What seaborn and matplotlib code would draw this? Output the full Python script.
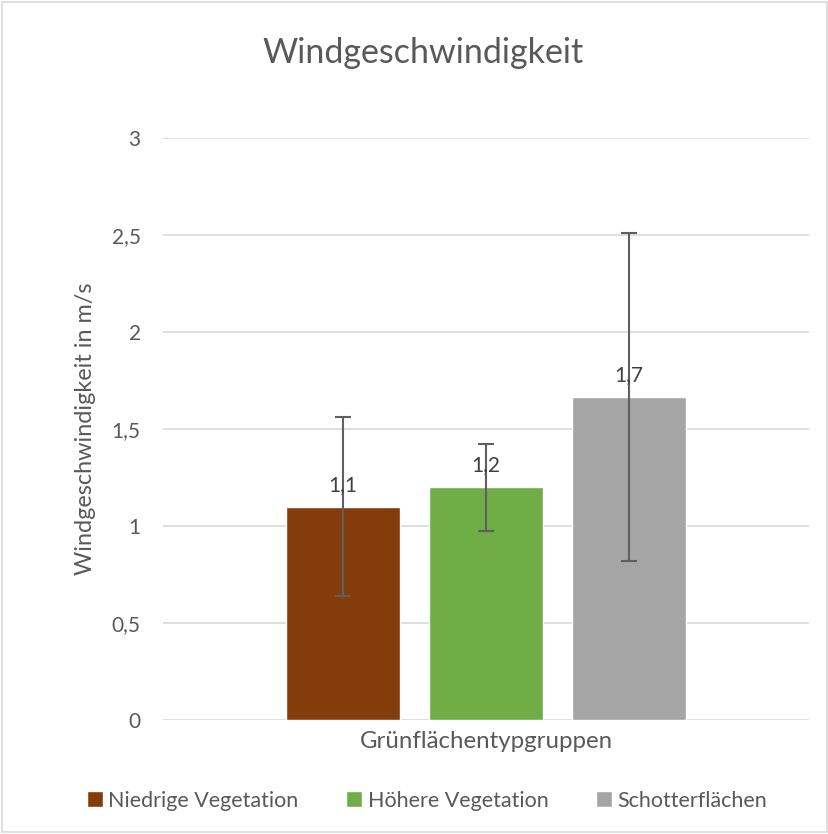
import pandas as pd
import seaborn as sns
import matplotlib.pyplot as plt
from matplotlib.patches import Patch

# Daten
gruppen = ["Niedrige Vegetation", "Höhere Vegetation", "Schotterflächen"]
mittelwerte = [1.1, 1.2, 1.665]
fehler = [0.46, 0.225, 0.845]
beschriftung = ["1,1", "1,2", "1,7"]
farben = ["#843C0C", "#70AD47", "#A5A5A5"]
y_ticks = [0, 0.5, 1, 1.5, 2, 2.5, 3]
y_tick_labels = ["0", "0,5", "1", "1,5", "2", "2,5", "3"]

df = pd.DataFrame({"kategorie": ["Grünflächentypgruppen"] * 3,
                   "gruppe": gruppen,
                   "wert": mittelwerte})

sns.set_style("white")
plt.rcParams["font.family"] = ["Lato", "DejaVu Sans"]
text_farbe = "#595959"

fig = plt.figure(figsize=(8.29, 8.34), dpi=100)
ax = fig.add_axes([0.1966, 0.1367, 0.7794, 0.6978])

sns.barplot(data=df, x="kategorie", y="wert", hue="gruppe", hue_order=gruppen,
            palette=farben, width=0.664, gap=0.203, errorbar=None,
            saturation=1, legend=False, ax=ax)

# Fehlerbalken und Werte
balken = sorted(ax.patches, key=lambda p: p.get_x())
for p, m, f, txt in zip(balken, mittelwerte, fehler, beschriftung):
    xc = p.get_x() + p.get_width() / 2
    ax.errorbar(xc, m, yerr=f, fmt="none", ecolor="#5f5f5f", elinewidth=1.5,
                capsize=6, capthick=1.5, zorder=5)
    ax.text(xc, m + 0.06, txt, ha="center", va="bottom", fontsize=15,
            color="#404040", zorder=6)

ax.set_xlim(-0.5, 0.5)
ax.set_ylim(0, 3)
ax.set_yticks(y_ticks)
ax.set_yticklabels(y_tick_labels)
ax.set_xticks([])
ax.grid(axis="y", color="#D9D9D9", linewidth=1.2)
ax.set_axisbelow(True)
for s in ax.spines.values():
    s.set_visible(False)
ax.tick_params(axis="y", length=0, pad=16, labelsize=15, labelcolor=text_farbe)

ax.set_ylabel("Windgeschwindigkeit in m/s", fontsize=16.8, color=text_farbe)
ax.yaxis.set_label_coords(-0.103, 0.5)
ax.set_xlabel("Grünflächentypgruppen", fontsize=17.3, color=text_farbe, labelpad=8)
fig.text(0.51, 0.937, "Windgeschwindigkeit", ha="center", va="center",
         fontsize=24.5, color=text_farbe)

handles = [Patch(facecolor=c, label=g) for g, c in zip(gruppen, farben)]
fig.legend(handles=handles, loc="center", bbox_to_anchor=(0.515, 0.04), ncol=3,
           frameon=False, fontsize=15.5, handlelength=0.75, handleheight=0.75,
           handletextpad=0.25, columnspacing=2.2, labelcolor=text_farbe)

# Rahmen um das Diagramm
rahmen = plt.Rectangle((0.002, 0.002), 0.996, 0.996, transform=fig.transFigure,
                       fill=False, edgecolor="#D9D9D9", linewidth=1.2)
fig.add_artist(rahmen)

fig.savefig("out.png", dpi=100, facecolor="white")
